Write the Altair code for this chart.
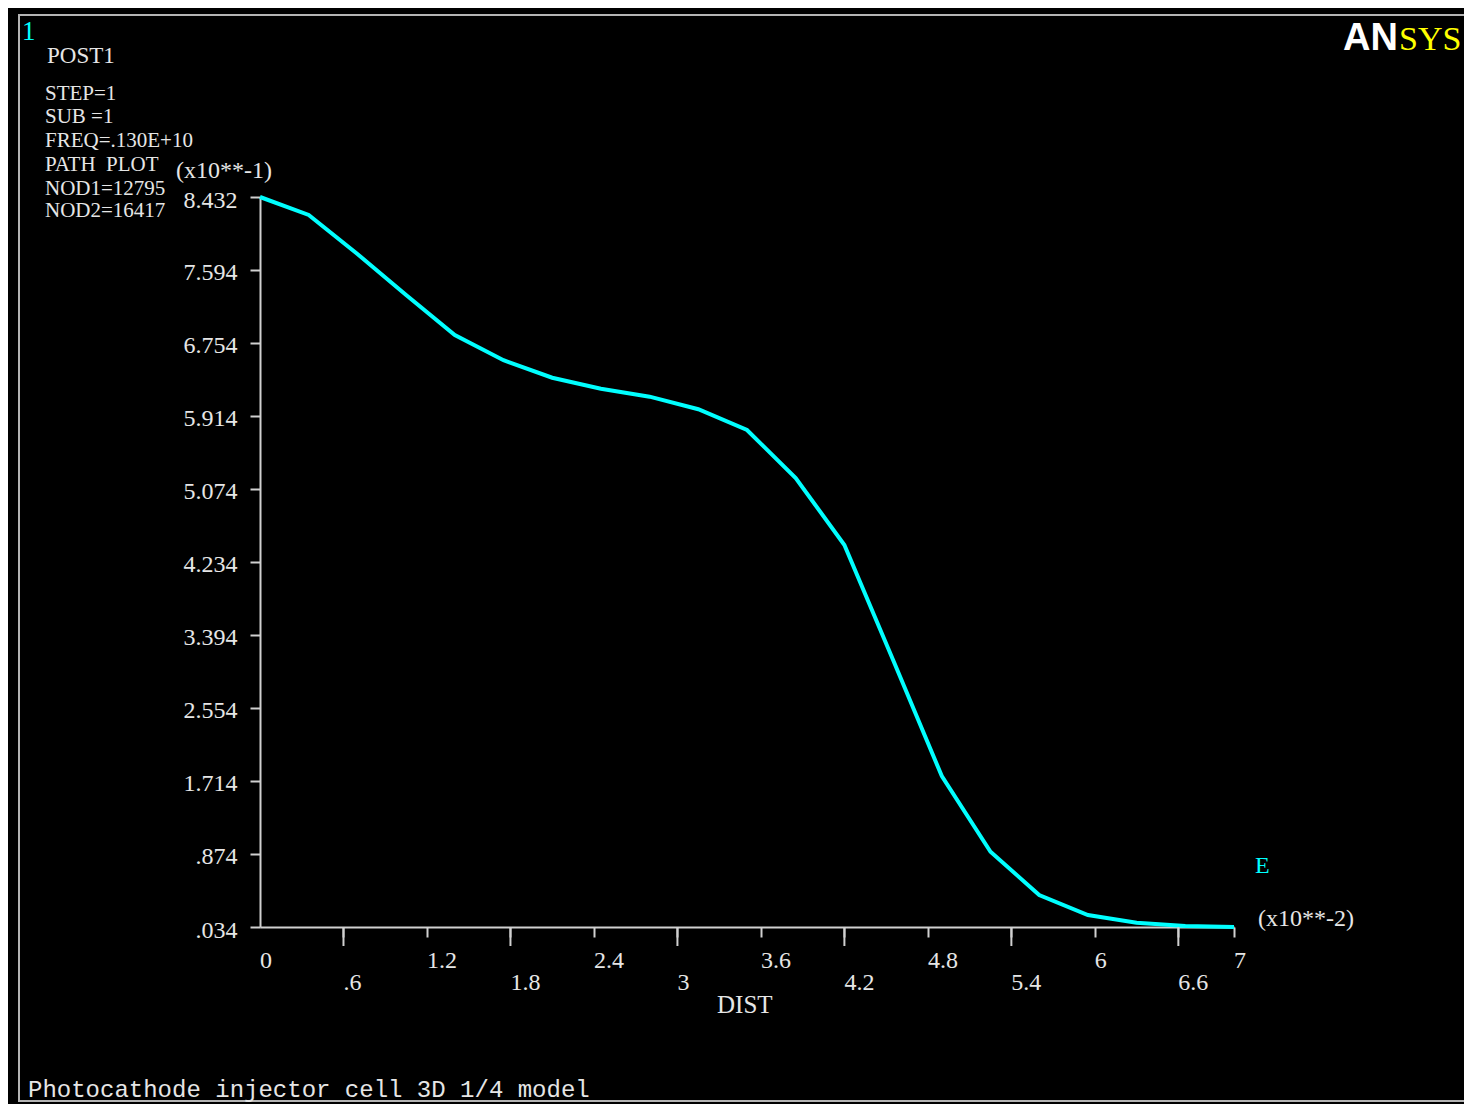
import altair as alt
import pandas as pd

# ---- data (DIST in x10**-2, E in x10**-1) ----
dist = [0.0, 0.35, 0.70, 1.05, 1.40, 1.75, 2.10, 2.45, 2.80, 3.15, 3.50,
        3.85, 4.20, 4.55, 4.90, 5.25, 5.60, 5.95, 6.30, 6.65, 7.00]
efield = [8.432, 8.225, 7.776, 7.305, 6.845, 6.555, 6.353, 6.226, 6.135, 5.99, 5.752,
          5.199, 4.429, 3.106, 1.77, 0.900, 0.402, 0.172, 0.083, 0.046, 0.034]

y_ticks = [0.034, 0.874, 1.714, 2.554, 3.394, 4.234, 5.074, 5.914, 6.754, 7.594, 8.432]
x_upper_vals = [0, 1.2, 2.4, 3.6, 4.8, 6, 7]
x_upper_labels = ["0", "1.2", "2.4", "3.6", "4.8", "6", "7"]
x_lower_vals = [0.6, 1.8, 3, 4.2, 5.4, 6.6]
x_lower_labels = [".6", "1.8", "3", "4.2", "5.4", "6.6"]

header_lines = ["STEP=1", "SUB =1", "FREQ=.130E+10", "PATH\u00a0\u00a0PLOT", "NOD1=12795", "NOD2=16417"]

WHITE = "#e6e6e6"
LINEC = "#d0d0d0"
CYAN = "#00ffff"
SERIF = "Liberation Serif"

df = pd.DataFrame({"dist": dist, "e": efield})
up = pd.DataFrame({"v": x_upper_vals, "lab": x_upper_labels})
lo = pd.DataFrame({"v": x_lower_vals, "lab": x_lower_labels})
one = pd.DataFrame({"a": [0]})

xscale = alt.Scale(domain=[0, 7], nice=False, zero=False)
yscale = alt.Scale(domain=[0.034, 8.432], nice=False, zero=False)

line = alt.Chart(df).mark_line(color=CYAN, strokeWidth=4).encode(
    x=alt.X("dist:Q", scale=xscale,
            axis=alt.Axis(values=x_upper_vals[1:] + x_lower_vals, labels=False, tickSize=10,
                          title=None, grid=False, domainColor=LINEC, tickColor=LINEC,
                          domainWidth=2, tickWidth=2)),
    y=alt.Y("e:Q", scale=yscale,
            axis=alt.Axis(values=y_ticks, tickSize=10, title=None, grid=False,
                          domainColor=LINEC, tickColor=LINEC, domainWidth=2, tickWidth=2,
                          labelColor=WHITE, labelFont=SERIF, labelFontSize=24,
                          labelPadding=13, labelBaseline="middle", labelOffset=3,
                          labelExpr="datum.value < 1 ? substring(format(datum.value, '.3f'), 1) : format(datum.value, '.3f')")),
)

long_ticks = alt.Chart(lo).mark_rule(color=LINEC, strokeWidth=2).encode(
    x=alt.X("v:Q", scale=xscale), y=alt.value(730), y2=alt.value(749))

up_labels = alt.Chart(up).mark_text(align="left", baseline="alphabetic", font=SERIF,
                                    fontSize=24, color=WHITE).encode(
    x=alt.X("v:Q", scale=xscale), y=alt.value(771), text="lab:N")
lo_labels = alt.Chart(lo).mark_text(align="left", baseline="alphabetic", font=SERIF,
                                    fontSize=24, color=WHITE).encode(
    x=alt.X("v:Q", scale=xscale), y=alt.value(793), text="lab:N")


def label(txt, x, y, size=23, color=WHITE, font=SERIF, weight="normal"):
    return alt.Chart(one).mark_text(align="left", baseline="alphabetic", font=font,
                                    fontSize=size, color=color, fontWeight=weight).encode(
        x=alt.value(x), y=alt.value(y), text=alt.value(txt))


border = alt.Chart(one).mark_rect(fill="transparent", stroke="#b4b4b4", strokeWidth=2).encode(
    x=alt.value(-241), x2=alt.value(1230), y=alt.value(-182), y2=alt.value(904))

layers = [border, line, long_ticks, up_labels, lo_labels,
          label("1", -238, -157, size=27, color=CYAN),
          label("POST1", -213, -134)]
header_y = [-97, -74, -50, -26, -2, 20]
for t, yy in zip(header_lines, header_y):
    layers.append(label(t, -215, yy, size=21))
layers += [
    label("(x10**-1)", -84, -19, size=24),
    label("AN", 1083, -147, size=38, color="#ffffff", font="Liberation Sans", weight="bold"),
    label("SYS", 1139, -147, size=34, color="#ffff00", font=SERIF),
    label("E", 995, 676, size=24, color=CYAN),
    label("(x10**-2)", 998, 729, size=24),
    label("DIST", 457, 816, size=25),
    label("Photocathode injector cell 3D 1/4 model", -232, 900, size=24, font="Liberation Mono"),
]

chart = alt.layer(*layers).properties(
    width=974, height=730,
    autosize=alt.AutoSizeParams(type="none"),
    padding={"left": 252, "top": 189, "right": 230, "bottom": 177},
    background="black",
).configure_view(fill="black", strokeWidth=0)

chart.save("out.html", embed_options={"renderer": "svg", "actions": False})
